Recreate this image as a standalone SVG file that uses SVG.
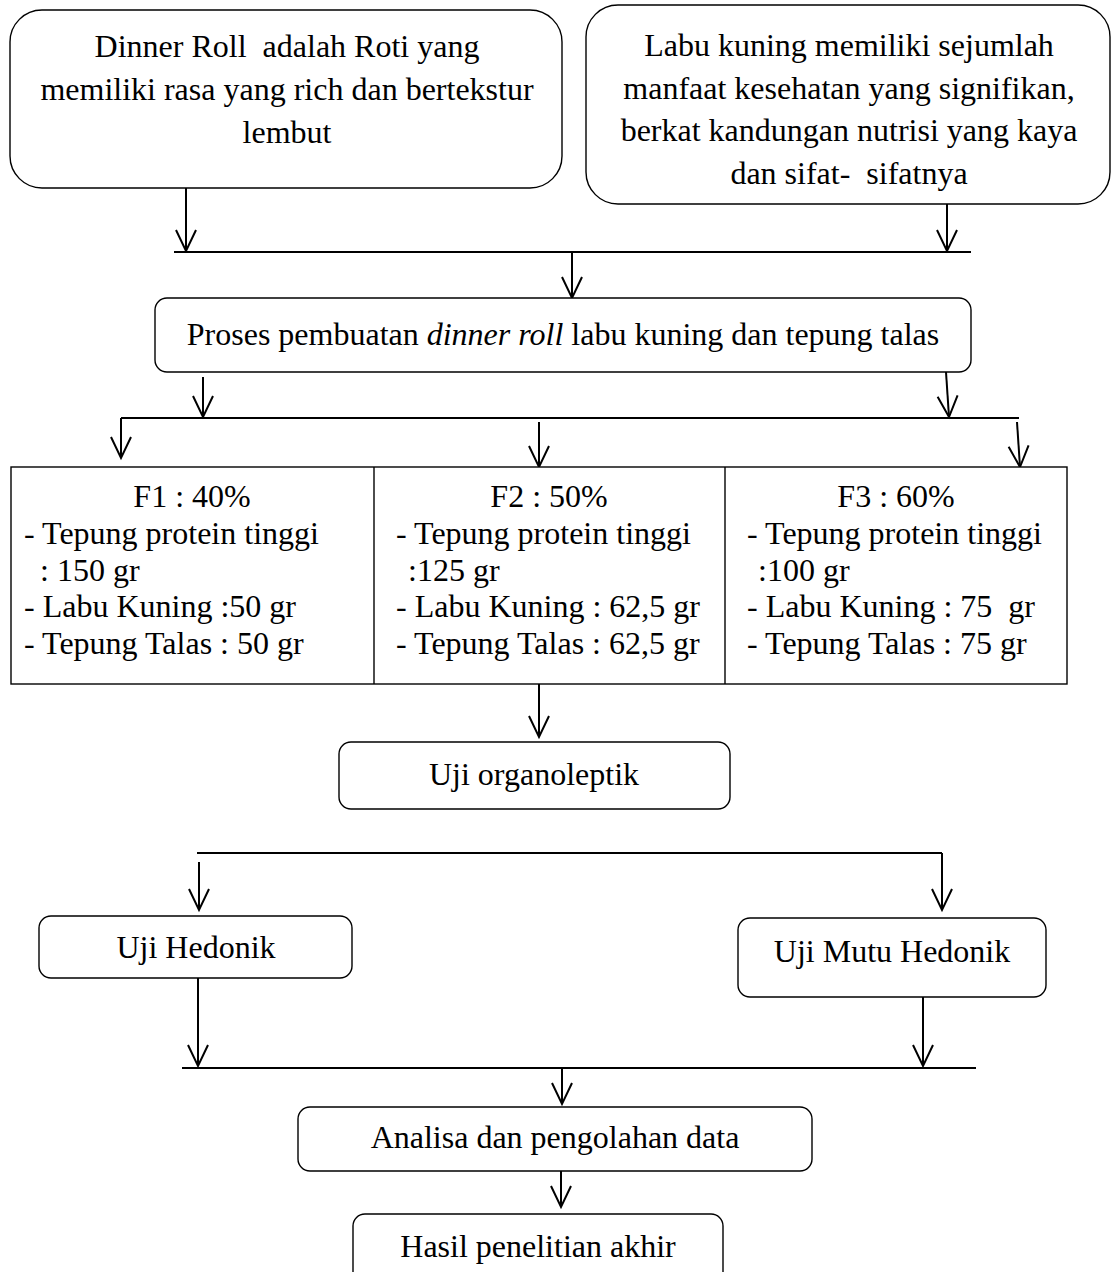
<svg xmlns="http://www.w3.org/2000/svg" width="1112" height="1272" viewBox="0 0 1112 1272">
<style>
  .box { fill: #fff; stroke: #000; stroke-width: 1.4; }
  .t, .tt { font-family: "Liberation Serif", "Times New Roman", serif; font-size: 32px; fill: #000; white-space: pre; }
  .c { text-anchor: middle; }
  .ln { stroke: #000; stroke-width: 2; fill: none; }
  .ar { stroke: #000; stroke-width: 2; fill: none; marker-end: url(#ah); }
</style>
<defs>
  <marker id="ah" markerUnits="userSpaceOnUse" viewBox="-24 -13 27 26" markerWidth="27" markerHeight="26" refX="0" refY="0" orient="auto">
    <path d="M -21 -10 L 0 0 L -21 10" fill="none" stroke="#000" stroke-width="2"/>
  </marker>
</defs>
<rect width="1112" height="1272" fill="#fff"/>

<g id="connectors">
  <line class="ar" x1="186" y1="188" x2="186" y2="251"/>
  <line class="ar" x1="947" y1="204" x2="947" y2="251"/>
  <line class="ln" x1="174" y1="252" x2="971" y2="252"/>
  <line class="ar" x1="572" y1="252" x2="572" y2="298"/>
  <line class="ar" x1="203" y1="377" x2="203" y2="417"/>
  <line class="ar" x1="946" y1="372" x2="949" y2="417"/>
  <line class="ln" x1="121" y1="418" x2="1019" y2="418"/>
  <line class="ar" x1="121" y1="418" x2="121" y2="458"/>
  <line class="ar" x1="539" y1="422" x2="539" y2="467"/>
  <line class="ar" x1="1017" y1="422" x2="1020" y2="467"/>
  <line class="ar" x1="539" y1="684" x2="539" y2="737"/>
  <line class="ln" x1="197" y1="853" x2="942" y2="853"/>
  <line class="ar" x1="199" y1="862" x2="199" y2="910"/>
  <line class="ar" x1="942" y1="853" x2="942" y2="910"/>
  <line class="ar" x1="198" y1="978" x2="198" y2="1066"/>
  <line class="ar" x1="923" y1="997" x2="923" y2="1066"/>
  <line class="ln" x1="182" y1="1068" x2="976" y2="1068"/>
  <line class="ar" x1="562" y1="1068" x2="562" y2="1104"/>
  <line class="ar" x1="561" y1="1171" x2="561" y2="1207"/>
</g>

<g id="dinner-roll">
  <rect class="box" x="10" y="10" width="552" height="178" rx="32" ry="32"/>
  <text class="t c" x="287" y="57">Dinner Roll  adalah Roti yang</text>
  <text class="t c" x="287" y="100">memiliki rasa yang rich dan bertekstur</text>
  <text class="t c" x="287" y="143">lembut</text>
</g>

<g id="labu-kuning">
  <rect class="box" x="586" y="5" width="524" height="199" rx="32" ry="32"/>
  <text class="t c" x="849" y="56">Labu kuning memiliki sejumlah</text>
  <text class="t c" x="849" y="99">manfaat kesehatan yang signifikan,</text>
  <text class="t c" x="849" y="141">berkat kandungan nutrisi yang kaya</text>
  <text class="t c" x="849" y="184">dan sifat-  sifatnya</text>
</g>

<g id="proses">
  <rect class="box" x="155" y="298" width="816" height="74" rx="12" ry="12"/>
  <text class="t c" x="563" y="345">Proses pembuatan <tspan font-style="italic">dinner roll</tspan> labu kuning dan tepung talas</text>
</g>

<g id="formulasi">
  <rect class="box" x="11" y="467" width="1056" height="217"/>
  <line class="box" x1="374" y1="467" x2="374" y2="684"/>
  <line class="box" x1="725" y1="467" x2="725" y2="684"/>
  <g id="f1">
    <text class="tt c" x="192" y="507">F1 : 40%</text>
    <text class="tt" x="24" y="544">- Tepung protein tinggi</text>
    <text class="tt" x="40" y="581">: 150 gr</text>
    <text class="tt" x="24" y="617">- Labu Kuning :50 gr</text>
    <text class="tt" x="24" y="654">- Tepung Talas : 50 gr</text>
  </g>
  <g id="f2">
    <text class="tt c" x="549" y="507">F2 : 50%</text>
    <text class="tt" x="396" y="544">- Tepung protein tinggi</text>
    <text class="tt" x="408" y="581">:125 gr</text>
    <text class="tt" x="396" y="617">- Labu Kuning : 62,5 gr</text>
    <text class="tt" x="396" y="654">- Tepung Talas : 62,5 gr</text>
  </g>
  <g id="f3">
    <text class="tt c" x="896" y="507">F3 : 60%</text>
    <text class="tt" x="747" y="544">- Tepung protein tinggi</text>
    <text class="tt" x="758" y="581">:100 gr</text>
    <text class="tt" x="747" y="617">- Labu Kuning : 75  gr</text>
    <text class="tt" x="747" y="654">- Tepung Talas : 75 gr</text>
  </g>
</g>

<g id="uji-organoleptik">
  <rect class="box" x="339" y="742" width="391" height="67" rx="12" ry="12"/>
  <text class="t c" x="534" y="785">Uji organoleptik</text>
</g>

<g id="uji-hedonik">
  <rect class="box" x="39" y="916" width="313" height="62" rx="12" ry="12"/>
  <text class="t c" x="196" y="958">Uji Hedonik</text>
</g>

<g id="uji-mutu-hedonik">
  <rect class="box" x="738" y="918" width="308" height="79" rx="12" ry="12"/>
  <text class="t c" x="892" y="962">Uji Mutu Hedonik</text>
</g>

<g id="analisa">
  <rect class="box" x="298" y="1107" width="514" height="64" rx="12" ry="12"/>
  <text class="t c" x="555" y="1148">Analisa dan pengolahan data</text>
</g>

<g id="hasil">
  <rect class="box" x="353" y="1214" width="370" height="80" rx="12" ry="12"/>
  <text class="t c" x="538" y="1257">Hasil penelitian akhir</text>
</g>
</svg>
